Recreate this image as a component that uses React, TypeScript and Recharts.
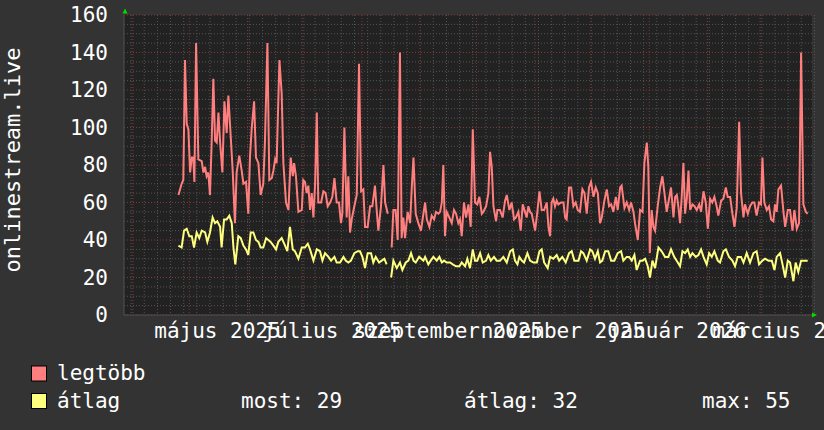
import React from 'react';
import { LineChart, Line, XAxis, YAxis, CartesianGrid } from 'recharts';

// days since 2025-04-01
const maxDays = [24.2,25.9,26.8,27.7,28.6,29.5,30.4,31.3,32.1,32.7,33.6,34.8,36.6,37.5,38.4,39.2,40.1,41.0,41.9,42.8,43.7,44.6,45.5,46.4,47.6,48.7,49.9,50.8,52.0,53.1,54.3,55.2,56.6,57.9,58.8,60.2,61.4,62.3,63.2,64.5,65.5,66.8,68.0,69.4,70.3,71.6,72.6,73.9,74.8,75.7,76.5,78.0,79.2,80.1,81.5,82.8,84.0,85.1,85.8,86.8,88.1,89.9,90.7,91.6,92.5,93.4,94.3,95.2,96.1,97.0,97.9,98.7,100.2,101.4,102.6,103.7,105.0,106.2,107.3,108.5,109.7,110.8,111.5,112.6,113.8,114.7,115.6,116.5,117.9,119.2,120.4,121.5,122.7,123.6,125.0,126.3,127.5,128.9,129.8,130.7,132.1,133.4,134.3,135.7,136.5,137.8,138.7,139.9,141.0,142.2,143.1,144.0,144.9,146.3,147.6,148.5,149.4,150.6,152.0,153.4,154.7,155.6,156.5,157.9,159.1,160.4,161.4,162.7,163.6,164.5,165.3,166.2,167.1,168.5,169.8,171.0,172.1,173.3,174.2,175.1,176.3,177.4,178.7,179.9,181.0,182.2,183.4,184.5,185.8,186.6,188.1,189.3,190.2,191.1,192.0,193.4,194.1,195.5,196.9,198.2,199.1,200.5,201.7,203.0,204.0,205.3,206.5,207.6,208.8,209.7,210.6,211.5,212.4,214.2,215.4,216.5,217.7,219.0,220.4,221.3,222.2,223.0,223.9,224.8,225.7,226.6,228.0,229.3,230.2,231.0,232.3,233.4,234.6,235.8,236.9,238.1,239.4,240.5,241.7,242.9,244.0,245.3,246.5,247.6,248.8,249.7,251.1,252.4,253.6,254.7,255.9,257.2,258.2,259.5,260.3,261.8,263.0,264.3,265.3,266.6,267.4,268.9,270.1,271.4,272.4,273.7,274.5,275.3,276.3,277.2,278.1,279.5,280.8,282.0,283.1,284.3,285.2,286.6,287.9,288.8,289.7,290.5,291.4,292.3,293.2,294.1,295.0,295.9,296.8,298.0,299.1,300.3,301.6,302.6,303.9,305.1,306.2,307.4,308.6,309.7,310.9,311.8,313.3,314.5,315.8,316.8,318.1,319.3,320.4,321.6,322.9,323.9,325.2,326.0,327.5,328.7,329.9,331.0,332.2,333.5,334.5,335.3,336.3,337.6,338.8,339.9,341.1,342.0,342.9,343.8,345.2,346.6,347.4,348.8,350.0,351.3,352.3,353.6,354.8,355.9,357.1,358.4,359.4];
const maxVals = [64,70,72,136,102,99,76,84,84,71,145,83,82,76,79,74,76,64,92,126,93,92,108,92,76,114,97,117,96,77,49,76,85,77,70,71,54,84,99,114,84,81,64,70,93,145,72,73,77,83,81,136,118,81,60,56,84,74,81,74,55,56,72,71,65,69,56,65,52,70,108,60,60,66,65,58,60,63,73,60,60,49,54,100,52,74,44,51,58,64,134,66,67,47,47,58,58,69,56,45,58,80,60,54,null,36,56,56,40,140,41,52,41,55,49,68,84,54,49,45,54,60,51,47,53,51,55,54,55,60,80,42,55,52,49,56,54,49,51,42,60,52,59,47,99,60,59,63,54,55,58,65,87,79,58,50,56,56,52,61,64,56,60,51,52,55,45,59,55,52,58,55,54,45,55,66,56,56,60,47,42,60,62,58,61,59,60,60,52,51,68,68,58,60,56,55,67,65,54,68,71,63,68,65,49,52,61,67,58,59,55,63,56,68,69,57,60,56,60,55,49,40,56,55,81,92,79,33,56,47,45,58,68,74,65,55,60,68,52,63,64,58,49,63,81,54,62,77,56,59,58,56,59,55,66,60,46,62,60,63,58,53,61,62,68,63,63,54,47,57,103,65,52,59,54,58,60,60,53,60,59,84,60,56,58,51,50,59,55,67,69,54,47,56,56,45,56,46,49,140,59,55,54];

const avgDays = [24.2,25.9,27.2,28.6,30.0,31.3,32.5,33.9,35.3,36.6,38.4,39.6,41.0,42.4,43.7,44.9,46.4,47.2,48.5,49.9,51.3,52.6,53.5,54.5,56.1,57.4,58.8,60.2,61.4,62.7,64.1,65.5,66.8,68.0,69.4,70.9,72.1,73.3,74.8,76.2,77.4,79.2,81.0,82.2,83.6,85.1,86.3,88.1,89.9,91.6,93.1,94.3,96.1,97.9,99.6,100.9,102.3,104.1,105.5,107.3,108.5,110.3,112.1,113.3,114.7,116.1,117.9,119.7,120.9,122.2,123.6,125.0,126.8,128.0,129.3,131.1,132.5,133.9,135.1,136.5,137.5,138.7,140.5,142.2,143.5,145.3,146.7,148.1,149.4,150.6,152.4,154.7,155.6,157.3,158.6,160.0,161.8,163.2,164.5,165.7,167.1,168.9,170.3,172.1,173.9,175.1,176.9,178.1,179.5,181.0,182.2,183.4,184.9,186.3,188.1,189.3,190.6,192.3,193.7,195.5,197.3,199.1,200.9,202.3,203.5,204.8,205.8,207.1,208.3,210.1,211.5,213.3,215.1,216.5,217.7,219.0,220.9,222.2,223.9,225.7,227.0,228.7,230.5,232.3,233.7,235.1,237.3,238.7,239.9,241.7,243.5,244.7,246.1,247.6,248.8,250.0,251.5,253.2,254.7,256.4,258.2,260.0,261.2,263.0,264.3,265.7,267.1,268.3,270.1,271.4,272.8,274.2,275.4,276.7,278.1,279.9,281.6,283.4,285.2,286.6,288.3,290.2,291.4,292.7,294.1,295.5,296.8,298.0,299.8,301.2,302.6,303.9,305.6,306.9,308.3,309.7,311.5,312.7,314.5,315.8,317.5,319.3,320.7,322.1,323.9,325.2,326.9,328.7,330.5,332.2,333.5,335.3,336.7,338.5,340.3,341.7,342.9,344.7,346.0,347.4,348.8,350.0,351.8,353.0,354.4,355.9,357.1,359.4];
const avgVals = [37,36,45,46,42,42,36,44,41,45,44,39,44,52,49,50,47,36,51,51,53,49,36,27,42,41,37,35,32,44,44,40,39,36,36,41,40,39,37,35,39,41,37,34,47,35,34,30,36,36,38,35,29,35,34,29,33,31,29,31,28,28,31,29,28,29,33,34,34,31,25,33,33,28,31,28,29,30,27,null,20,29,25,28,24,28,29,33,29,28,31,29,31,27,29,31,29,31,28,29,28,28,27,26,26,28,26,30,25,35,29,29,33,28,29,32,29,31,29,29,31,28,34,35,29,27,31,29,28,33,29,28,28,34,35,28,25,31,30,32,29,31,28,33,34,29,29,34,33,29,35,34,30,34,28,29,34,34,29,29,33,34,29,31,31,29,32,24,29,29,30,26,20,29,25,36,34,31,31,35,31,28,26,34,33,35,31,33,31,32,35,31,27,33,31,34,29,28,34,35,31,29,26,31,31,28,33,28,33,34,27,29,30,29,29,24,31,33,27,20,29,28,18,28,23,29,29,29];

const xLabelDays = [45, 106, 168, 229, 290, 349];
const xLabels = ['május 2025', 'július 2025', 'szeptember 2025', 'november 2025', 'január 2026', 'március 2026'];
const monthStartDays = [0, 30, 61, 91, 122, 153, 183, 214, 244, 275, 306, 334];
const weekDays = Array.from({ length: 53 }, (_, i) => -1 + i * 7);
const yTicks = [0, 20, 40, 60, 80, 100, 120, 140, 160];
const yMinor = Array.from({ length: 33 }, (_, i) => i * 5).filter((v) => v % 20 !== 0);

const seriesNames = ['legtöbb', 'átlag'];
const statsLabels = ['most: 29', 'átlag: 32', 'max: 55'];

const FONT = '"DejaVu Sans Mono", monospace';
const RED = '#ff7f7f';
const YELLOW = '#ffff7f';

const maxData = maxDays.map((d, i) => ({ d, v: maxVals[i] }));
const avgData = avgDays.map((d, i) => ({ d, v: avgVals[i] }));

export default function App() {
  return (
    <div style={{ position: 'absolute', left: 0, top: 0, width: 824, height: 430, background: '#333333', overflow: 'hidden' }}>
      <LineChart width={824} height={430} margin={{ top: 15, right: 12, bottom: 85, left: 0 }}>
        <CartesianGrid fill="#222222" horizontal={false} vertical={false} />
        <CartesianGrid
          horizontalValues={yMinor}
          verticalValues={weekDays}
          stroke="#555555"
          strokeDasharray="1 2"
        />
        <CartesianGrid
          horizontalValues={yTicks}
          verticalValues={monthStartDays}
          stroke="#803838"
          strokeDasharray="1 2"
        />
        <XAxis
          dataKey="d"
          type="number"
          domain={[-4.8, 361.7]}
          allowDataOverflow
          ticks={xLabelDays}
          interval={0}
          tickFormatter={(v) => xLabels[xLabelDays.indexOf(v)]}
          tick={{ fill: '#ffffff', fontSize: 21, fontFamily: FONT }}
          tickLine={false}
          tickSize={0}
          tickMargin={8}
          height={30}
          axisLine={{ stroke: '#505050' }}
        />
        <YAxis
          type="number"
          domain={[0, 160]}
          ticks={yTicks}
          interval={0}
          width={124}
          tick={{ fill: '#ffffff', fontSize: 21, fontFamily: FONT }}
          tickLine={false}
          tickSize={0}
          tickMargin={16}
          axisLine={{ stroke: '#505050' }}
        />
        <Line data={maxData} dataKey="v" type="linear" stroke={RED} strokeWidth={2} dot={false} activeDot={false} isAnimationActive={false} connectNulls={false} />
        <Line data={avgData} dataKey="v" type="linear" stroke={YELLOW} strokeWidth={2} dot={false} activeDot={false} isAnimationActive={false} connectNulls={false} />
      </LineChart>
      <svg width={824} height={430} style={{ position: 'absolute', left: 0, top: 0, pointerEvents: 'none' }}>
        <text x={20} y={160} transform="rotate(-90 20 160)" textAnchor="middle" fill="#ffffff" fontSize={22} fontFamily={FONT}>onlinestream.live</text>
        <polygon points="122.5,13.5 127.5,13.5 125,8.5" fill="#00dd00" />
        <polygon points="812,312.5 812,317.5 817,315" fill="#00dd00" />
        <rect x={31.5} y={366} width={15} height={15} fill={RED} stroke="#000" strokeWidth={1} />
        <text x={57} y={380} fill="#ffffff" fontSize={21} fontFamily={FONT}>{seriesNames[0]}</text>
        <rect x={31.5} y={393.5} width={15} height={15} fill={YELLOW} stroke="#000" strokeWidth={1} />
        <text x={57} y={408} fill="#ffffff" fontSize={21} fontFamily={FONT}>{seriesNames[1]}</text>
        <text x={241} y={408} fill="#ffffff" fontSize={21} fontFamily={FONT}>{statsLabels[0]}</text>
        <text x={464} y={408} fill="#ffffff" fontSize={21} fontFamily={FONT}>{statsLabels[1]}</text>
        <text x={702} y={408} fill="#ffffff" fontSize={21} fontFamily={FONT}>{statsLabels[2]}</text>
      </svg>
    </div>
  );
}
